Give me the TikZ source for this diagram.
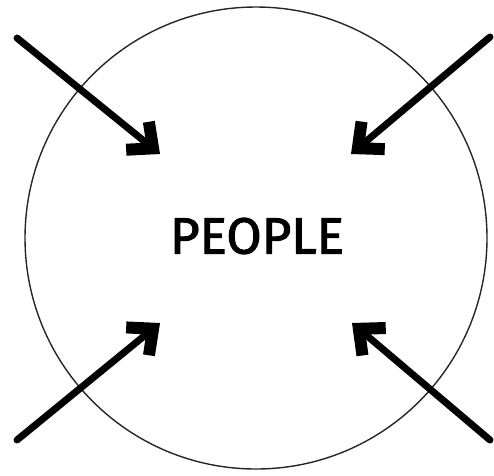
\documentclass[tikz,border=0pt]{standalone}
\usepackage{fontspec}
\setsansfont{Fira Sans}[FakeBold=2]
\usetikzlibrary{arrows.meta}
\begin{document}
\begin{tikzpicture}[x=1pt,y=-1pt, ring/.style={draw=black!85,circle,line width=1.4pt,minimum size=462pt,inner sep=0pt}, word/.style={font=\sffamily\fontsize{51}{51}\selectfont,inner sep=0pt}, push/.style={line width=7pt,line cap=round,-{Straight Barb[sharp,length=20pt,width=36pt,line width=12pt]}}]
\useasboundingbox (0,0) rectangle (494,475);
\node[ring] (crowd) at (256,238) {};
\node[word] (people) at (257,236) {PEOPLE};
\coordinate (nw tail) at (17,38);\coordinate (nw tip) at (160,154);
\coordinate (ne tail) at (490,37);\coordinate (ne tip) at (351,154);
\coordinate (sw tail) at (17,440);\coordinate (sw tip) at (160,323);
\coordinate (se tail) at (490,440);\coordinate (se tip) at (352,323);
\draw[push] (nw tail)--(nw tip);\draw[push] (ne tail)--(ne tip);\draw[push] (sw tail)--(sw tip);\draw[push] (se tail)--(se tip);
\end{tikzpicture}
\end{document}
